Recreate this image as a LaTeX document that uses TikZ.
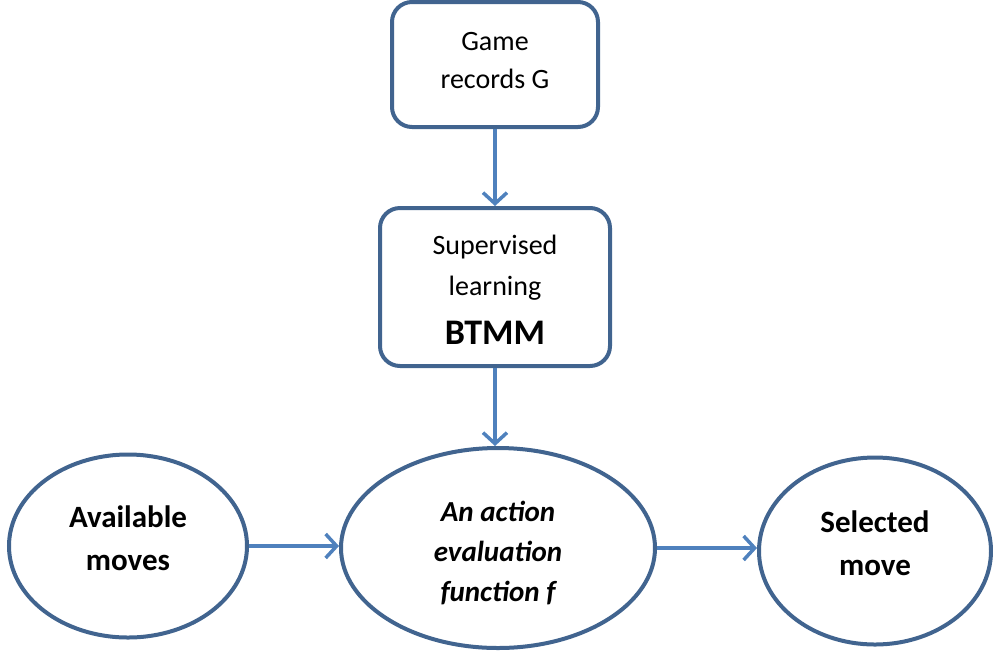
\documentclass[tikz,border=0pt]{standalone}
\usepackage{fontspec}
\setmainfont{Carlito}
\usetikzlibrary{shapes.geometric,arrows.meta}
\definecolor{edgeblue}{HTML}{41648F}
\definecolor{flowblue}{HTML}{4F81BD}
\tikzset{
  procbox/.style={draw=edgeblue, line width=4pt, rounded corners=20pt, fill=white, inner sep=0pt},
  stateell/.style={draw=edgeblue, line width=4pt, ellipse, fill=white, inner sep=0pt},
  txt/.style={align=center, inner sep=0pt, text=black},
  flow/.style={draw=flowblue, line width=3.5pt,
    -{Straight Barb[length=11pt, width=24pt, line width=3.5pt]}},
}
\begin{document}
\begin{tikzpicture}[x=1pt, y=-1pt]
\useasboundingbox (0,0) rectangle (993,657);

% boxes and ellipses
\node[procbox, minimum width=206pt, minimum height=125pt] (records) at (495,64.5) {};
\node[procbox, minimum width=230pt, minimum height=158pt] (learn) at (495,287) {};
\node[stateell, minimum width=238pt, minimum height=183pt] (avail) at (128,546) {};
\node[stateell, minimum width=314pt, minimum height=200pt] (evalf) at (498,548) {};
\node[stateell, minimum width=232pt, minimum height=187pt] (sel) at (875,551) {};

% labels
\node[txt, font=\fontsize{28}{38}\selectfont] (recordsT) at (495,61) {Game\\records G};
\node[txt, font=\fontsize{28}{41}\selectfont] (learnT) at (495,268) {Supervised\\learning};
\node[txt, font=\fontsize{36}{40}\bfseries] (btmm) at (495,333) {BTMM};
\node[txt, font=\fontsize{31}{43}\bfseries] (availT) at (128,538) {Available\\moves};
\node[txt, font=\fontsize{29}{40}\bfseries\itshape] (evalT) at (498,553) {An action\\evaluation\\function \textit{f}};
\node[txt, font=\fontsize{31}{43}\bfseries] (selT) at (875,543) {Selected\\move};

% connectors
\draw[flow] (records.south) -- (learn.north);
\draw[flow] (learn.south) -- (learn.south |- evalf.north);
\draw[flow] (avail.east) -- (avail.east -| evalf.west);
\draw[flow] (evalf.east) -- (evalf.east -| sel.west);
\end{tikzpicture}
\end{document}
